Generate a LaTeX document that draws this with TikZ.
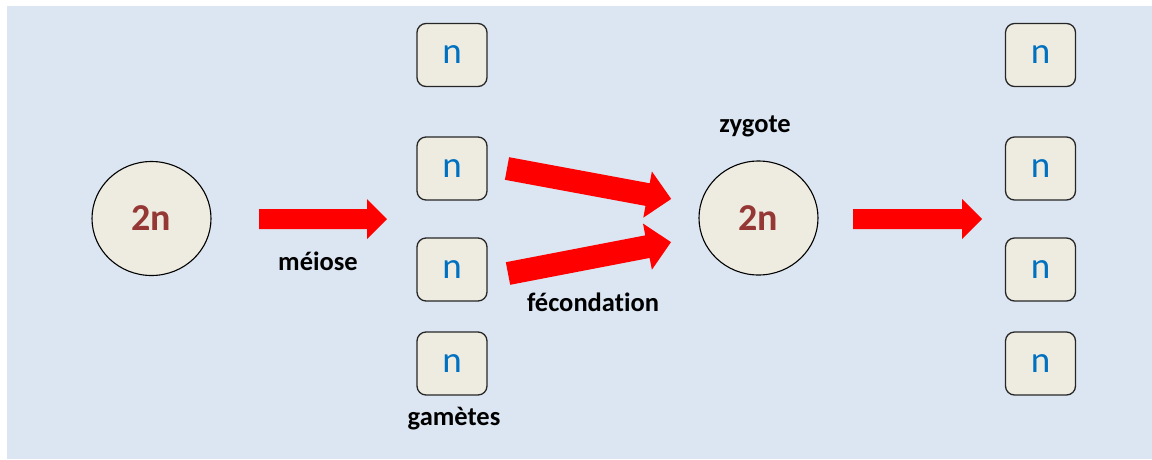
\documentclass[tikz,border=0pt]{standalone}
\usepackage{fontspec}
\setmainfont{Carlito}[RawFeature={-liga;-clig;-dlig}]
\usetikzlibrary{shapes.geometric}
\definecolor{bg}{HTML}{DCE6F2}
\definecolor{cell}{HTML}{EEECE1}
\definecolor{dred}{HTML}{953735}
\definecolor{nblue}{HTML}{0070C0}
\definecolor{ared}{HTML}{FF0000}
\tikzset{
  cellbox/.style={draw=black!85, line width=1.3pt, fill=cell, rounded corners=9pt,
    minimum width=70pt, minimum height=63pt, inner sep=0pt,
    text=nblue, font=\fontsize{37}{40}\selectfont},
  cellround/.style={ellipse, draw=black, line width=1.1pt, fill=cell,
    minimum width=119pt, minimum height=114pt, inner sep=0pt,
    text=dred, font=\bfseries\fontsize{38}{40}\selectfont},
  lbl/.style={font=\bfseries\fontsize{26.5}{29}\selectfont, text=black, inner sep=0pt},
  blockarrow/.style={fill=ared, draw=none}
}
\begin{document}
\begin{tikzpicture}[x=1pt,y=-1pt]
\useasboundingbox (0,0) rectangle (1152,459);
\fill[white] (0,0) rectangle (1152,459);
\fill[bg] (7,6) rectangle (1152,459);

% cells
\node[cellround] (p) at (151.5,218.5) {2n};
\node[cellround] (z) at (758.5,218) {2n};
\foreach \y [count=\i] in {55,168.5,269.5,363.5}{
  \node[cellbox] (g\i) at (452,\y) {n};
  \node[cellbox] (d\i) at (1040.5,\y) {n};
}

% labels
\node[lbl] (lm) at (318,261) {méiose};
\node[lbl] (lf) at (593,302) {fécondation};
\node[lbl] (lz) at (755,126) {zygote};
\node[lbl] (lg) at (454,419) {gamètes};

% block arrows
\fill[blockarrow] (259,209) -- (367,209) -- (367,199) -- (387,219) -- (367,239) -- (367,229) -- (259,229) -- cycle;
\fill[blockarrow] (853,209) -- (962,209) -- (962,199) -- (982,219) -- (962,239) -- (962,229) -- (853,229) -- cycle;
\begin{scope}[shift={(507,168.5)}, rotate=-10.5]
  \fill[blockarrow] (0,-11.5) -- (143,-11.5) -- (143,-23.5) -- (167,0) -- (143,23.5) -- (143,11.5) -- (0,11.5) -- cycle;
\end{scope}
\begin{scope}[shift={(508,273.5)}, rotate=10.9]
  \fill[blockarrow] (0,-11.5) -- (142,-11.5) -- (142,-23.5) -- (166,0) -- (142,23.5) -- (142,11.5) -- (0,11.5) -- cycle;
\end{scope}
\end{tikzpicture}
\end{document}
